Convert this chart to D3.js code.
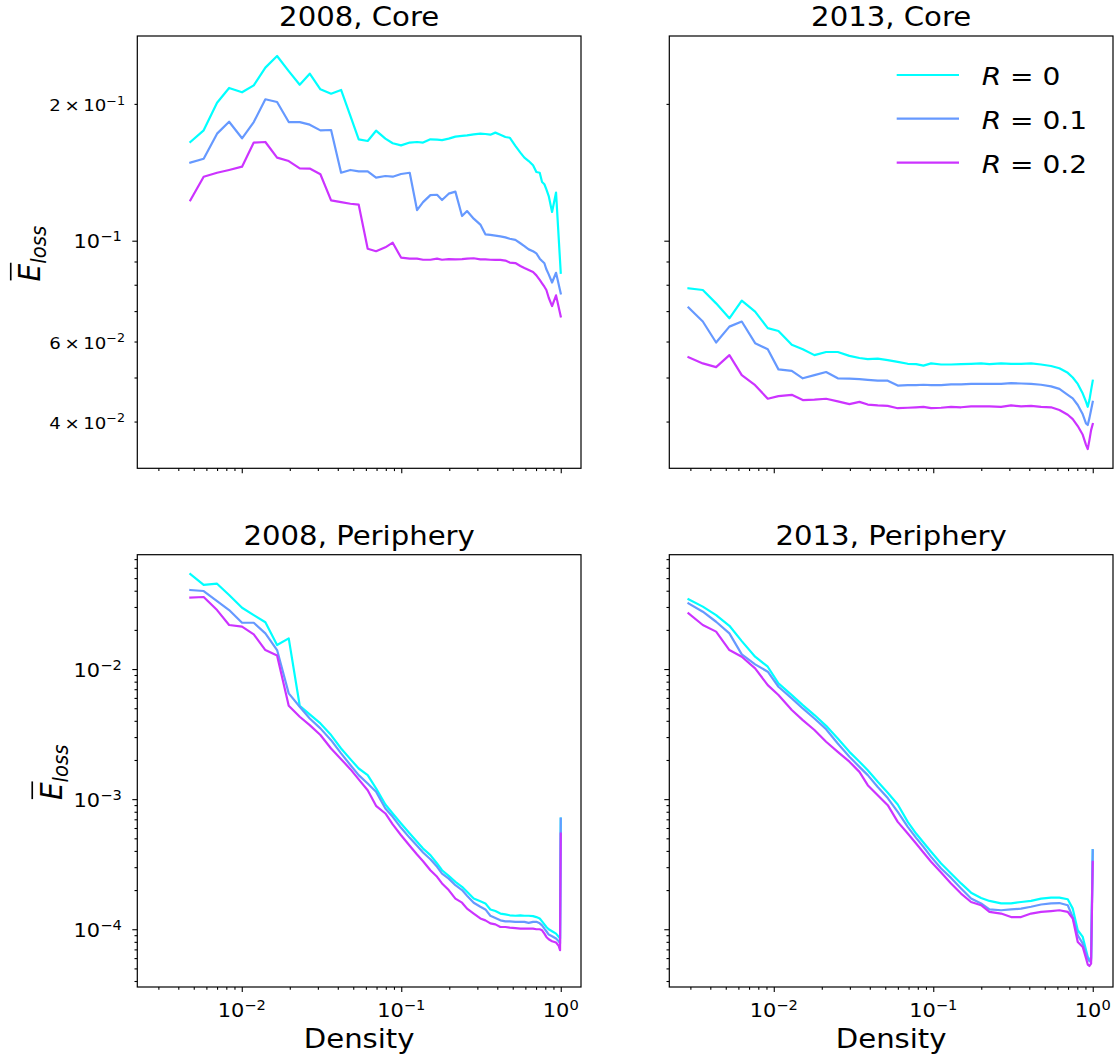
<!DOCTYPE html>
<html>
<head>
<meta charset="utf-8">
<script src="https://cdn.jsdelivr.net/npm/d3@7"></script>
<style>
  body { margin: 0; background: #fff; }
  svg { display: block; }
</style>
</head>
<body>
<svg id="fig" width="1118" height="1061"></svg>
<script>
// ---------- data ----------
const seriesLabels = ["0", "0.1", "0.2"];
const seriesColors = ["#00ffff", "#6699ff", "#cc33ff"];

const density2008Core = [0.00476, 0.00577, 0.00700, 0.00833, 0.01004, 0.01189, 0.01406, 0.01665, 0.01970, 0.02309,
  0.02668, 0.03112, 0.03631, 0.04195, 0.04797, 0.0541, 0.0616, 0.0695, 0.0795, 0.0884,
  0.0997, 0.1130, 0.1256, 0.1370, 0.1523, 0.1677, 0.1802, 0.1984, 0.2185, 0.2405,
  0.2585, 0.2846, 0.3133, 0.3369, 0.3620, 0.3892, 0.4182, 0.4496, 0.4787, 0.5193,
  0.5582, 0.5916, 0.6297, 0.6704, 0.7034, 0.7383, 0.7636, 0.7897, 0.8127, 0.8407,
  0.8822, 0.9344, 1.0];

const core2008R0 = [0.1649, 0.1749, 0.2012, 0.2168, 0.2121, 0.2197, 0.2403, 0.2549, 0.2362, 0.2204,
  0.2331, 0.2153, 0.2106, 0.2146, 0.1881, 0.1671, 0.1657, 0.1746, 0.1677, 0.1638,
  0.1621, 0.1644, 0.1649, 0.1644, 0.1671, 0.1668, 0.1665, 0.1677, 0.1694, 0.1700,
  0.1705, 0.1714, 0.1720, 0.1717, 0.1711, 0.1729, 0.1711, 0.1691, 0.1685, 0.1616,
  0.1562, 0.1523, 0.1497, 0.1465, 0.1416, 0.1411, 0.1346, 0.1331, 0.1297, 0.1254,
  0.1157, 0.1276, 0.0850];
const core2008R1 = [0.1485, 0.1515, 0.1720, 0.1827, 0.1680, 0.1824, 0.2047, 0.2019, 0.1824, 0.1824,
  0.1800, 0.1749, 0.1752, 0.1411, 0.1431, 0.1421, 0.1421, 0.1376, 0.1388, 0.1383,
  0.1402, 0.1411, 0.1168, 0.1216, 0.1260, 0.1262, 0.1229, 0.1269, 0.1282, 0.1133,
  0.1162, 0.1118, 0.1085, 0.1033, 0.1030, 0.1026, 0.1022, 0.1017, 0.1010, 0.1004,
  0.0987, 0.0973, 0.0957, 0.0948, 0.0938, 0.0913, 0.0902, 0.0892, 0.0865, 0.0843,
  0.0809, 0.0850, 0.0766];
const core2008R2 = [0.1227, 0.1383, 0.1411, 0.1431, 0.1455, 0.1644, 0.1649, 0.1523, 0.1497, 0.1443,
  0.1441, 0.1400, 0.1227, 0.1216, 0.1206, 0.1200, 0.0960, 0.0948, 0.0967, 0.0990,
  0.0918, 0.0913, 0.0913, 0.0908, 0.0908, 0.0913, 0.0908, 0.0911, 0.0910, 0.0911,
  0.0913, 0.0915, 0.0910, 0.0910, 0.0908, 0.0907, 0.0907, 0.0904, 0.0895, 0.0893,
  0.0880, 0.0871, 0.0862, 0.0853, 0.0839, 0.0820, 0.0806, 0.0792, 0.0779, 0.0749,
  0.0718, 0.0758, 0.0681];

const density2008Periphery = [0.00476, 0.00577, 0.00700, 0.00833, 0.01004, 0.01189, 0.01406, 0.01665, 0.01970, 0.02309,
  0.02668, 0.03112, 0.03631, 0.04195, 0.04797, 0.0541, 0.0616, 0.0695, 0.0795, 0.0884,
  0.0997, 0.1130, 0.1256, 0.1370, 0.1523, 0.1677, 0.1802, 0.1984, 0.2185, 0.2405,
  0.2585, 0.2846, 0.3133, 0.3369, 0.3620, 0.3892, 0.4182, 0.4496, 0.4787, 0.5193,
  0.5582, 0.5916, 0.6297, 0.6704, 0.7034, 0.7383, 0.7636, 0.7897, 0.8127, 0.8407,
  0.8822, 0.9344, 0.971, 0.99, 1.0];

const periphery2008R0 = [0.0538, 0.0443, 0.0453, 0.0371, 0.0296, 0.0260, 0.0229, 0.0153, 0.0172, 0.00522,
  0.00448, 0.00382, 0.00311, 0.00245, 0.00203, 0.00172, 0.00153, 0.00121, 0.000910, 0.000776,
  0.000650, 0.000544, 0.000470, 0.000417, 0.000371, 0.000320, 0.000284, 0.000257, 0.000231, 0.000212,
  0.000194, 0.000172, 0.000164, 0.000158, 0.000142, 0.000138, 0.000132, 0.000130, 0.000128, 0.000127,
  0.000128, 0.000127, 0.000127, 0.000126, 0.000124, 0.000121, 0.000115, 0.000109, 0.000104, 0.000100,
  0.0000965, 0.0000926, 0.0000873, 0.0000848, 0.000710];
const periphery2008R1 = [0.0405, 0.0398, 0.0333, 0.0284, 0.0227, 0.0227, 0.0188, 0.0140, 0.00650, 0.00513,
  0.00417, 0.00350, 0.00284, 0.00225, 0.00183, 0.00153, 0.00132, 0.00114, 0.000848, 0.000731,
  0.000602, 0.000504, 0.000438, 0.000389, 0.000345, 0.000302, 0.000268, 0.000245, 0.000218, 0.000200,
  0.000181, 0.000160, 0.000149, 0.000142, 0.000127, 0.000122, 0.000117, 0.000115, 0.000115, 0.000114,
  0.000114, 0.000114, 0.000112, 0.000114, 0.000114, 0.000111, 0.000107, 0.000101, 0.0000965, 0.0000910,
  0.0000884, 0.0000848, 0.0000809, 0.0000776, 0.000710];
const periphery2008R2 = [0.0354, 0.0358, 0.0284, 0.0218, 0.0212, 0.0185, 0.0140, 0.0127, 0.00522, 0.00430,
  0.00371, 0.00311, 0.00245, 0.00203, 0.00170, 0.00142, 0.00117, 0.000889, 0.000776, 0.000639,
  0.000528, 0.000438, 0.000375, 0.000333, 0.000284, 0.000253, 0.000225, 0.000200, 0.000172, 0.000160,
  0.000144, 0.000132, 0.000121, 0.000117, 0.000111, 0.000109, 0.000104, 0.000104, 0.000103, 0.000102,
  0.000101, 0.000101, 0.000101, 0.000101, 0.000100, 0.000100, 0.0000982, 0.0000926, 0.0000873, 0.0000838,
  0.0000809, 0.0000790, 0.0000745, 0.0000690, 0.000544];

const density2013 = [0.00292, 0.00359, 0.00435, 0.00527, 0.00630, 0.00764, 0.00917, 0.01070, 0.01297, 0.01520,
  0.01799, 0.02129, 0.02520, 0.02981, 0.03444, 0.03884, 0.04487, 0.05184, 0.05990, 0.06920,
  0.07806, 0.08680, 0.09692, 0.1120, 0.1293, 0.1494, 0.1726, 0.1995, 0.2251, 0.2663,
  0.3076, 0.3553, 0.4105, 0.4743, 0.5479, 0.6180, 0.6971, 0.7493, 0.8054, 0.8657,
  0.9082, 0.9304, 0.9530, 0.9763, 1.0];

const core2013R0 = [0.0786, 0.0779, 0.0728, 0.0675, 0.0738, 0.0698, 0.0642, 0.0633, 0.0590, 0.0577,
  0.0560, 0.0569, 0.0569, 0.0558, 0.0552, 0.0549, 0.0550, 0.0546, 0.0541, 0.0536,
  0.0535, 0.0531, 0.0537, 0.0534, 0.0534, 0.0535, 0.0536, 0.0537, 0.0535, 0.0537,
  0.0536, 0.0536, 0.0537, 0.0534, 0.0530, 0.0524, 0.0512, 0.0500, 0.0484, 0.0461,
  0.0442, 0.0431, 0.0446, 0.0469, 0.0492];
const core2013R1 = [0.0713, 0.0664, 0.0597, 0.0647, 0.0664, 0.0595, 0.0577, 0.0521, 0.0517, 0.0498,
  0.0506, 0.0514, 0.0498, 0.0497, 0.0496, 0.0494, 0.0492, 0.0492, 0.0480, 0.0481,
  0.0481, 0.0482, 0.0481, 0.0481, 0.0483, 0.0483, 0.0484, 0.0484, 0.0484, 0.0484,
  0.0486, 0.0485, 0.0484, 0.0482, 0.0478, 0.0472, 0.0458, 0.0450, 0.0435, 0.0415,
  0.0396, 0.0393, 0.0407, 0.0424, 0.0442];
const core2013R2 = [0.0554, 0.0537, 0.0527, 0.0560, 0.0506, 0.0481, 0.0449, 0.0455, 0.0458, 0.0446,
  0.0447, 0.0449, 0.0443, 0.0437, 0.0442, 0.0436, 0.0434, 0.0433, 0.0428, 0.0429,
  0.0430, 0.0431, 0.0428, 0.0429, 0.0431, 0.0430, 0.0432, 0.0432, 0.0432, 0.0431,
  0.0434, 0.0432, 0.0433, 0.0431, 0.0430, 0.0424, 0.0414, 0.0405, 0.0391, 0.0374,
  0.0355, 0.0348, 0.0364, 0.0383, 0.0395];

const periphery2013R0 = [0.0344, 0.0302, 0.0260, 0.0215, 0.0164, 0.01244, 0.01042, 0.00776, 0.00631, 0.00528,
  0.00443, 0.00366, 0.00293, 0.00231, 0.00194, 0.00167, 0.00136, 0.00112, 0.000910, 0.000669,
  0.000544, 0.000464, 0.000394, 0.000320, 0.000268, 0.000225, 0.000191, 0.000174, 0.000165, 0.000158,
  0.000158, 0.000162, 0.000165, 0.000172, 0.000175, 0.000175, 0.000170, 0.000144, 0.0000982, 0.0000873,
  0.0000690, 0.0000613, 0.0000588, 0.0000595, 0.000405];
const periphery2013R1 = [0.0320, 0.0276, 0.0231, 0.0188, 0.01297, 0.01086, 0.00954, 0.00731, 0.00595, 0.00498,
  0.00417, 0.00345, 0.00268, 0.00212, 0.00177, 0.00153, 0.00124, 0.00102, 0.000799, 0.000613,
  0.000504, 0.000430, 0.000360, 0.000293, 0.000248, 0.000206, 0.000172, 0.000158, 0.000142, 0.000140,
  0.000142, 0.000144, 0.000149, 0.000155, 0.000158, 0.000159, 0.000153, 0.000124, 0.0000899, 0.0000776,
  0.0000650, 0.0000595, 0.0000567, 0.0000577, 0.000405];
const periphery2013R2 = [0.0268, 0.0218, 0.0194, 0.0140, 0.01244, 0.01012, 0.00753, 0.00631, 0.00484, 0.00405,
  0.00340, 0.00276, 0.00231, 0.00194, 0.00162, 0.00128, 0.00107, 0.000899, 0.000669, 0.000544,
  0.000456, 0.000389, 0.000330, 0.000273, 0.000225, 0.000188, 0.000162, 0.000153, 0.000136, 0.000132,
  0.000124, 0.000124, 0.000132, 0.000136, 0.000138, 0.000140, 0.000136, 0.000121, 0.0000799, 0.0000731,
  0.0000595, 0.0000535, 0.0000522, 0.0000544, 0.000330];

// tick labels
const xTickValues = [0.01, 0.1, 1];
const xTickExponents = ["\u22122", "\u22121", "0"];
const coreTickValues = [0.2, 0.1, 0.06, 0.04];
const coreTickMantissas = ["2", "", "6", "4"];
const coreTickExponents = ["\u22121", "\u22121", "\u22122", "\u22122"];
const peripheryTickValues = [0.01, 0.001, 0.0001];
const peripheryTickExponents = ["\u22122", "\u22123", "\u22124"];

const panels = [
  { title: "2008, Core", density: density2008Core, series: [core2008R0, core2008R1, core2008R2], row: 0, col: 0 },
  { title: "2013, Core", density: density2013, series: [core2013R0, core2013R1, core2013R2], row: 0, col: 1 },
  { title: "2008, Periphery", density: density2008Periphery, series: [periphery2008R0, periphery2008R1, periphery2008R2], row: 1, col: 0 },
  { title: "2013, Periphery", density: density2013, series: [periphery2013R0, periphery2013R1, periphery2013R2], row: 1, col: 1 }
];

// ---------- layout ----------
const FONT = "'DejaVu Sans', sans-serif";
const SX = 1.1;               // glyphs are drawn slightly wide
const W = 443.7, H = 432.3;
const colX = [137.3, 669.3];
const rowY = [36, 554.7];

const x = d3.scaleLog().domain([10 ** -2.655, 10 ** 0.127]).range([0, W]);
const yScales = [
  d3.scaleLog().domain([10 ** -1.5008, 10 ** -0.5496]).range([H, 0]),
  d3.scaleLog().domain([10 ** -4.444, 10 ** -1.121]).range([H, 0])
];

function minorTicks(domain, e0, e1) {
  const out = [];
  for (let e = e0; e <= e1; e++) {
    for (let k = 2; k <= 9; k++) {
      const v = k * Math.pow(10, e);
      if (v >= domain[0] && v <= domain[1]) out.push(v);
    }
  }
  return out;
}
const xMinor = minorTicks(x.domain(), -3, 0);
const yMajor = [[0.1], [0.01, 0.001, 0.0001]];
const yMinor = [minorTicks(yScales[0].domain(), -2, -1), minorTicks(yScales[1].domain(), -5, -2)];

const svg = d3.select("#fig");
svg.append("rect").attr("width", 1118).attr("height", 1061).attr("fill", "#fff");

function stretchedText(parent, tx, ty, size, anchor, extra) {
  const g = parent.append("g").attr("transform", `translate(${tx},${ty}) scale(${SX},1)` + (extra || ""));
  return g.append("text")
    .attr("font-family", FONT).attr("font-size", size)
    .attr("text-anchor", anchor).attr("fill", "#000");
}

function powerLabel(parent, tx, ty, size, anchor, mantissa, exponent) {
  const t = stretchedText(parent, tx, ty, size, anchor);
  t.append("tspan").text((mantissa ? mantissa + "\u2009\u00d7\u2009" : "") + "10");
  t.append("tspan").attr("font-size", size * 0.7).attr("dy", -size * 0.37).text(exponent);
  return t;
}

panels.forEach((p, i) => {
  const y = yScales[p.row];
  const g = svg.append("g").attr("transform", `translate(${colX[p.col]},${rowY[p.row]})`);

  g.append("clipPath").attr("id", "clip" + i)
    .append("rect").attr("width", W).attr("height", H);

  // x ticks
  const xMinorAxis = d3.axisBottom(x).tickValues(xMinor).tickSizeInner(2.8).tickSizeOuter(0).tickFormat("");
  const xMajorAxis = d3.axisBottom(x).tickValues(xTickValues).tickSizeInner(5).tickSizeOuter(0).tickFormat("");
  [xMinorAxis, xMajorAxis].forEach(ax => {
    const a = g.append("g").attr("transform", `translate(0,${H})`).call(ax);
    a.select(".domain").remove();
    a.selectAll("line").attr("stroke", "#000").attr("stroke-width", 1.1);
  });

  // y ticks
  const yMinorAxis = d3.axisLeft(y).tickValues(yMinor[p.row]).tickSizeInner(2.8).tickSizeOuter(0).tickFormat("");
  const yMajorAxis = d3.axisLeft(y).tickValues(yMajor[p.row]).tickSizeInner(5).tickSizeOuter(0).tickFormat("");
  [yMinorAxis, yMajorAxis].forEach(ax => {
    const a = g.append("g").call(ax);
    a.select(".domain").remove();
    a.selectAll("line").attr("stroke", "#000").attr("stroke-width", 1.1);
  });

  // tick labels on the outer edges only
  if (p.row === 1) {
    xTickValues.forEach((v, k) => powerLabel(g, x(v), H + 30, 19, "middle", "", xTickExponents[k]));
  }
  if (p.col === 0) {
    if (p.row === 0) {
      coreTickValues.forEach((v, k) => {
        const major = coreTickMantissas[k] === "";
        powerLabel(g, major ? -15.6 : -12.3, y(v) + (major ? 7.8 : 7), major ? 19 : 16.5, "end",
          coreTickMantissas[k], coreTickExponents[k]);
      });
    } else {
      peripheryTickValues.forEach((v, k) => powerLabel(g, -15.6, y(v) + 7.8, 19, "end", "", peripheryTickExponents[k]));
    }
  }

  // series
  const line = d3.line().x((d, j) => x(p.density[j])).y(d => y(d));
  const lines = g.append("g").attr("clip-path", `url(#clip${i})`);
  p.series.forEach((s, k) => {
    lines.append("path").datum(s)
      .attr("d", line)
      .attr("fill", "none")
      .attr("stroke", seriesColors[k])
      .attr("stroke-width", 2.2)
      .attr("stroke-linejoin", "round")
      .attr("stroke-linecap", "square");
  });

  // frame
  g.append("rect").attr("width", W).attr("height", H)
    .attr("fill", "none").attr("stroke", "#000").attr("stroke-width", 1.2);

  // title
  stretchedText(g, W / 2, -10, 26.5, "middle").text(p.title);

  if (p.row === 1) {
    stretchedText(g, W / 2, H + 60.5, 26.5, "middle").text("Density");
  }
});

// y-axis labels: overlined italic E with subscript "loss"
[[40, rowY[0] + H / 2 + 1.5], [61.5, rowY[1] + H / 2 + 1.5]].forEach(([tx, ty]) => {
  const size = 28;
  const g = svg.append("g").attr("transform", `translate(${tx},${ty}) scale(${SX},1) rotate(-90)`);
  const t = g.append("text").attr("font-family", FONT).attr("font-size", size)
    .attr("text-anchor", "middle").attr("fill", "#000").attr("font-style", "italic");
  t.append("tspan").text("E");
  t.append("tspan").attr("font-size", size * 0.7).attr("dy", size * 0.2).text("loss");
  const x0 = t.node().getStartPositionOfChar(0).x;
  const x1 = t.node().getEndPositionOfChar(0).x;
  g.append("line").attr("x1", x0 + 1).attr("x2", x1 + 1)
    .attr("y1", -size * 0.95).attr("y2", -size * 0.95)
    .attr("stroke", "#000").attr("stroke-width", 1.5);
});

// legend in the upper right panel
const legendRows = [75, 118.7, 162.7];
const legend = svg.append("g");
seriesLabels.forEach((lab, k) => {
  legend.append("line")
    .attr("x1", 896.7).attr("x2", 959).attr("y1", legendRows[k]).attr("y2", legendRows[k])
    .attr("stroke", seriesColors[k]).attr("stroke-width", 2.2);
  const t = stretchedText(legend, 981.7, legendRows[k] + 10, 25.5, "start");
  t.append("tspan").attr("font-style", "italic").text("R");
  t.append("tspan").text(" = " + lab);
});
</script>
</body>
</html>
